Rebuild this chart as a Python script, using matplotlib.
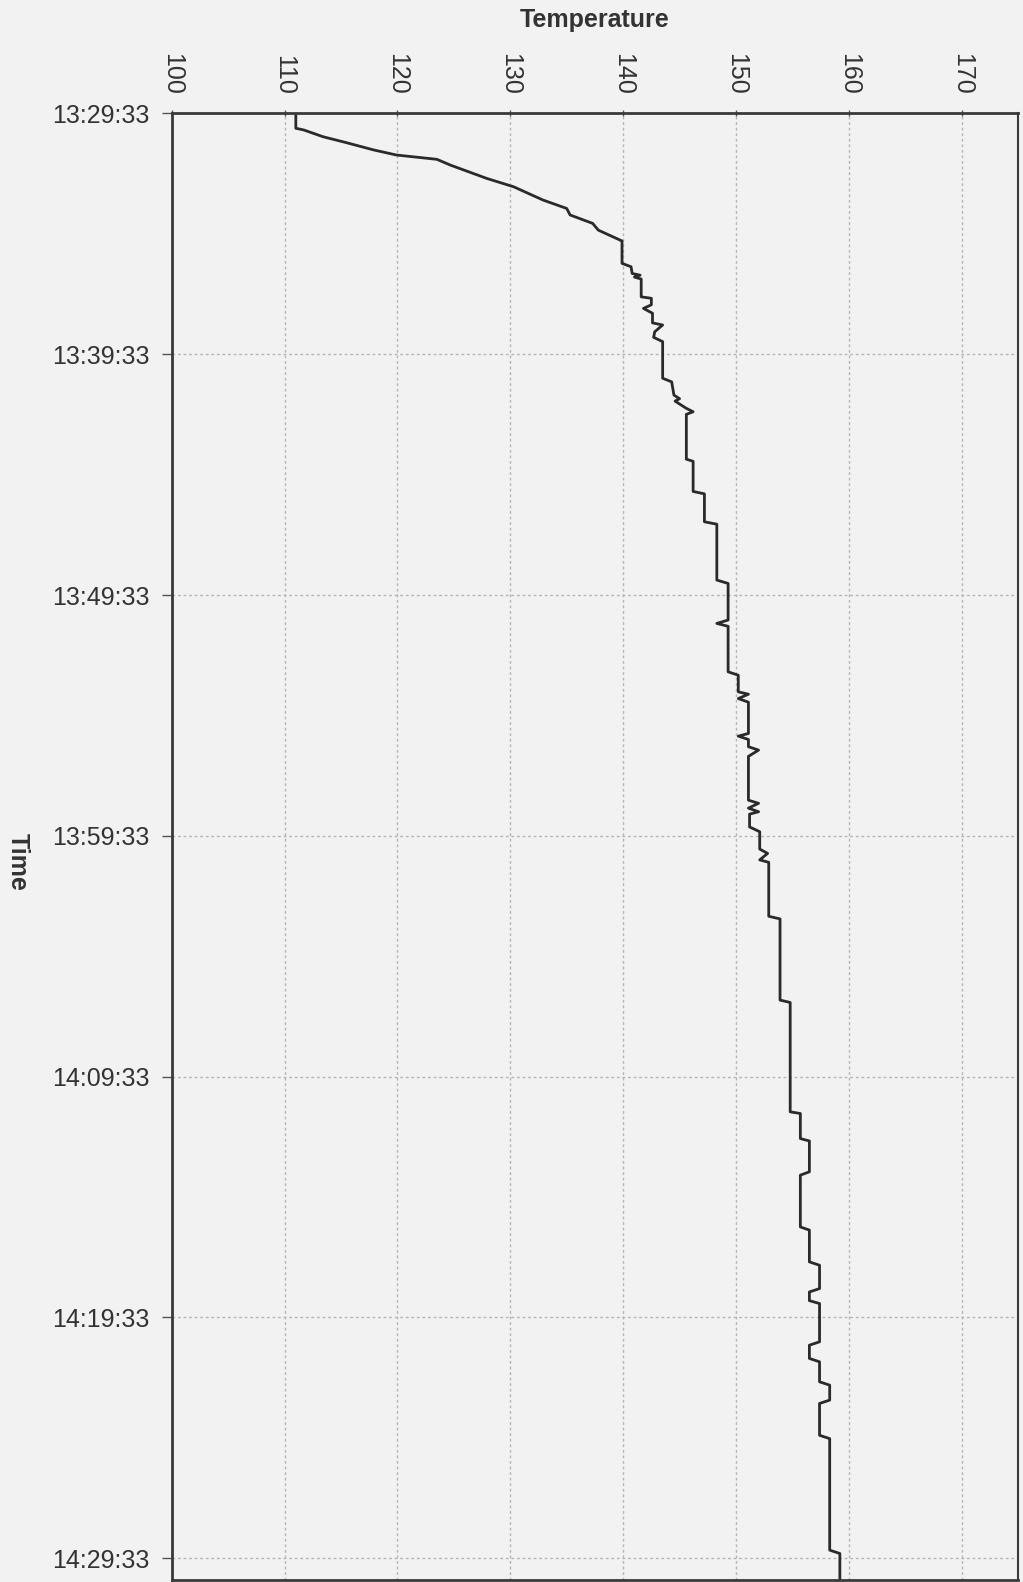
import matplotlib
matplotlib.use("Agg")
import matplotlib.pyplot as plt

# Elapsed minutes since 13:29:33 and the logged temperature
elapsed_min = [
    0.00, 0.62, 0.69, 0.97, 1.22, 1.52, 1.73, 1.91, 2.15, 2.70,
    3.05, 3.60, 3.95, 4.22, 4.57, 4.85, 5.30, 6.23, 6.37, 6.65,
    6.72, 6.80, 6.88, 7.62, 7.68, 7.95, 8.10, 8.30, 8.70, 8.79,
    9.07, 9.30, 9.48, 11.00, 11.15, 11.70, 11.85, 11.95, 12.25, 12.39,
    12.50, 14.36, 14.45, 15.70, 15.80, 16.96, 17.06, 19.38, 19.52, 21.04,
    21.18, 21.30, 23.19, 23.33, 24.02, 24.12, 24.30, 24.45, 25.75, 25.86,
    26.00, 26.30, 26.44, 26.70, 28.52, 28.65, 28.85, 29.00, 29.10, 29.63,
    29.83, 30.55, 30.73, 31.00, 31.10, 33.34, 33.45, 36.82, 36.92, 41.46,
    41.53, 42.57, 42.67, 43.95, 44.09, 46.24, 46.37, 47.69, 47.83, 48.80,
    48.94, 49.30, 49.42, 51.01, 51.15, 51.70, 51.84, 52.67, 52.81, 53.43,
    53.57, 54.89, 55.03, 59.66, 59.80, 61.00,
]
temperature = [
    111.0, 111.0, 111.7, 113.4, 115.5, 117.9, 119.9, 123.5, 124.7, 127.9,
    130.3, 132.9, 135.0, 135.3, 137.3, 137.8, 139.9, 139.9, 140.7, 140.8,
    141.5, 141.0, 141.6, 141.6, 142.5, 142.5, 141.8, 142.6, 142.6, 143.5,
    142.8, 142.7, 143.5, 143.5, 144.3, 144.5, 145.0, 144.6, 145.6, 146.2,
    145.6, 145.6, 146.2, 146.2, 147.2, 147.2, 148.3, 148.3, 149.3, 149.3,
    148.3, 149.3, 149.3, 150.2, 150.2, 151.1, 150.2, 151.1, 151.1, 150.2,
    151.1, 151.1, 152.0, 151.1, 151.1, 152.0, 151.1, 152.0, 151.2, 151.2,
    152.1, 152.1, 152.8, 152.1, 152.9, 152.9, 153.9, 153.9, 154.8, 154.8,
    155.7, 155.7, 156.5, 156.5, 155.7, 155.7, 156.5, 156.5, 157.4, 157.4,
    156.5, 156.5, 157.4, 157.4, 156.5, 156.5, 157.4, 157.4, 158.3, 158.3,
    157.4, 157.4, 158.3, 158.3, 159.2, 159.2,
]

temp_ticks = [100, 110, 120, 130, 140, 150, 160, 170]
time_ticks = [0, 10, 20, 30, 40, 50, 60]
time_labels = ["13:29:33", "13:39:33", "13:49:33", "13:59:33",
               "14:09:33", "14:19:33", "14:29:33"]

plt.rcParams["font.family"] = ["Liberation Sans", "DejaVu Sans"]
bg = "#f2f2f2"
ink = "#333333"

fig = plt.figure(figsize=(10.23, 15.82), dpi=100, facecolor=bg)
ax = fig.add_axes([0.1678, 0.00126, 0.8275, 0.9271], facecolor=bg)

ax.plot(temperature, elapsed_min, color="#2a2a2a", lw=2.0, solid_joinstyle="round")

ax.set_xlim(100, 175)
ax.set_ylim(60.9, 0)

ax.xaxis.tick_top()
ax.set_xticks(temp_ticks)
ax.set_xticklabels([str(v) for v in temp_ticks])
ax.set_yticks(time_ticks)
ax.set_yticklabels(time_labels)

ax.tick_params(axis="x", which="both", direction="inout", length=5, width=1,
               pad=11, labelsize=18, labelcolor=ink, colors="#555555",
               labelrotation=-90, top=True, bottom=False)
ax.tick_params(axis="y", direction="out", length=7, width=1, pad=9,
               labelsize=18, labelcolor=ink, colors="#555555")
for lbl in ax.get_xticklabels():
    lbl.set_color(ink)
for lbl in ax.get_yticklabels():
    lbl.set_color(ink)

ax.grid(True, color="#b5b5b5", lw=1.0, linestyle=(0, (2, 2)))
ax.set_axisbelow(True)

for side in ["left", "top", "bottom", "right"]:
    ax.spines[side].set_color("#3a3a3a")
    ax.spines[side].set_linewidth(2.0)
ax.spines["right"].set_linewidth(1.5)

fig.text(595 / 1023, 1 - 20 / 1582, "Temperature", ha="center", va="center",
         fontsize=18, fontweight="bold", color=ink)
fig.text(18 / 1023, 1 - 862 / 1582, "Time", ha="center", va="center",
         rotation=-90, fontsize=18, fontweight="bold", color=ink)

fig.savefig("out.png", dpi=100, facecolor=bg)
